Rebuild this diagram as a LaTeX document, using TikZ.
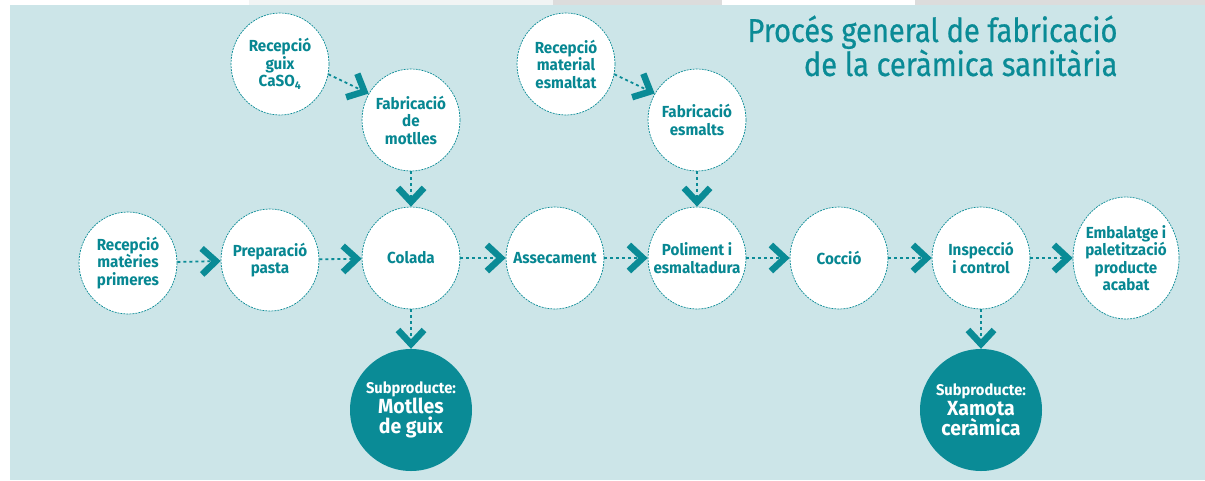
\documentclass[tikz,border=0pt]{standalone}
\usepackage{fontspec}
\setmainfont{Fira Sans}[FakeStretch=0.95]
\newfontfamily\ttlfont{Fira Sans}[FakeStretch=0.88,FakeBold=0.6]
\usetikzlibrary{arrows.meta,shapes.geometric}
\definecolor{bgc}{HTML}{CCE5E8}
\definecolor{tealc}{HTML}{0A8B96}
\definecolor{textc}{HTML}{078792}
\definecolor{stripa}{HTML}{F1F4F4}
\definecolor{stripb}{HTML}{DCDCDC}
\tikzset{
  proc/.style={ellipse, draw=tealc, dash pattern=on 2pt off 1pt, line width=0.7pt, fill=white,
    minimum width=98pt, minimum height=102pt, inner xsep=-25pt, inner ysep=0pt, align=center, text=textc,
    font=\bfseries\fontsize{16}{17.5}\selectfont},
  subp/.style={circle, fill=tealc, minimum size=122pt, inner sep=0pt, text=white, align=center,
    font=\bfseries\fontsize{20.5}{20}\selectfont},
  conn/.style={draw=tealc, line width=1.8pt, dash pattern=on 3pt off 3pt,
    -{Straight Barb[length=14pt,width=26pt,line width=6.5pt]}},
  titlefont/.style={font=\ttlfont\fontsize{33}{34}\selectfont, text=tealc, align=right}
}
\begin{document}
\begin{tikzpicture}[x=1pt,y=-1pt]
\useasboundingbox (0,0) rectangle (1205,480);
\fill[white] (0,0) rectangle (1205,480);
\fill[stripa] (249,0) rectangle (553,5);
\fill[stripb] (553,0) rectangle (722,5);
\fill[stripb] (915,0) rectangle (1205,5);
\fill[bgc] (10,5) rectangle (1205,480);

\node[titlefont, anchor=north east] (title) at (1121,12) {Procés general de fabricació\\de la ceràmica sanitària};

% upper nodes
\node[proc] (rg) at (280,64) {Recepció\\guix\\CaSO\textsubscript{4}};
\node[proc] (fm) at (411,120) {Fabricació\\de\\motlles};
\node[proc] (rm) at (566,64) {Recepció\\material\\esmaltat};
\node[proc] (fe) at (697,120) {Fabricació\\esmalts};

% main row
\node[proc] (rmp) at (128,263) {Recepció\\matèries\\primeres};
\node[proc] (pp) at (270,260) {Preparació\\pasta};
\node[proc] (col) at (411,258) {Colada};
\node[proc] (ass) at (555,258) {Assecament};
\node[proc] (pol) at (697,258) {Poliment i\\esmaltadura};
\node[proc] (coc) at (839,258) {Cocció};
\node[proc] (ins) at (981,258) {Inspecció\\i control};
\node[proc, minimum width=106pt, minimum height=122pt] (emb) at (1126,258) {Embalatge i\\paletització\\producte\\acabat};

% by-products
\node[subp] (s1) at (411,410) {{\fontsize{15.5}{18}\selectfont Subproducte:}\\Motlles\\de guix};
\node[subp] (s2) at (981,410) {{\fontsize{15.5}{18}\selectfont Subproducte:}\\Xamota\\ceràmica};

% connectors
\draw[conn] (rg.-12) -- (fm.148);
\draw[conn] (rm.-12) -- (fe.148);
\draw[conn] (fm) -- (col);
\draw[conn] (fe) -- (pol);
\draw[conn] (rmp) -- (pp);
\draw[conn] (pp) -- (col);
\draw[conn] (col) -- (ass);
\draw[conn] (ass) -- (pol);
\draw[conn] (pol) -- (coc);
\draw[conn] (coc) -- (ins);
\draw[conn] (ins) -- (emb);
\draw[conn] (col) -- (s1);
\draw[conn] (ins) -- (s2);
\end{tikzpicture}
\end{document}
